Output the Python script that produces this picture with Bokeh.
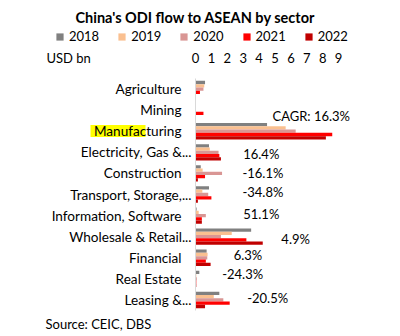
from bokeh.plotting import figure
from bokeh.models import Range1d, Legend, LegendItem, Label, BoxAnnotation, ColumnDataSource
from bokeh.core.properties import value
from bokeh.embed import file_html
from bokeh.resources import INLINE

# ---------------- data ----------------
years = ["2018", "2019", "2020", "2021", "2022"]
sectors = ["Agriculture", "Mining", "Manufacturing", "Electricity, Gas &...",
           "Construction", "Transport, Storage,...", "Information, Software",
           "Wholesale & Retail...", "Financial", "Real Estate", "Leasing &..."]
v2018 = [0.60, 0.00, 4.50, 0.85, 0.33, 0.85, 0.07, 3.50, 0.70, 0.24, 1.50]
v2019 = [0.55, 0.00, 5.67, 0.90, 0.45, 0.43, 0.20, 2.28, 0.76, 0.05, 1.15]
v2020 = [0.50, 0.00, 6.30, 1.45, 1.67, 0.80, 0.65, 1.60, 0.74, 0.08, 1.75]
v2021 = [0.28, 0.50, 8.60, 1.50, 0.60, 1.00, 0.40, 3.20, 0.65, 0.05, 2.15]
v2022 = [0.02, 0.02, 8.20, 1.60, 0.15, 0.15, 0.40, 4.23, 0.95, 0.05, 0.60]
tick_values = [0, 1, 2, 3, 4, 5, 6, 7, 8, 9]

cagr_sectors = ["Mining", "Electricity, Gas &...", "Construction",
                "Transport, Storage,...", "Information, Software",
                "Wholesale & Retail...", "Financial", "Real Estate", "Leasing &..."]
cagr_text = ["CAGR: 16.3%", "16.4%", "-16.1%", "-34.8%", "51.1%",
             "4.9%", "6.3%", "-24.3%", "-20.5%"]

title_text = "China's ODI flow to ASEAN by sector"
unit_text = "USD bn"
source_text = "Source: CEIC, DBS"

# ---------------- style / layout ----------------
FONT = "Lato"
colors = ["#808080", "#FAC090", "#D99694", "#FF0000", "#C00000"]
W, H = 400, 336
UNIT = 15.9            # px per USD bn
ZERO_PX = 195          # canvas x of value 0
PLOT_TOP, PLOT_BOTTOM = 78, 310   # canvas y of the category band
n = len(sectors)
CAT_PX = (PLOT_BOTTOM - PLOT_TOP) / n

# annotation placement (data units / category-unit shifts)
cagr_x = [4.84, 3.0, 2.95, 2.95, 3.0, 5.4, 2.4, 1.68, 3.25]
cagr_dy = [-0.26, -0.07, 0.03, 0.11, 0.06, -0.13, 0.11, 0.21, 0.09]

p = figure(width=W, height=H,
           x_range=Range1d(-ZERO_PX / UNIT, (W - ZERO_PX) / UNIT),
           y_range=Range1d(-(H - PLOT_BOTTOM) / CAT_PX, PLOT_BOTTOM / CAT_PX),
           output_backend="svg", toolbar_location=None,
           min_border=0)
p.outline_line_color = None
p.background_fill_color = "white"
p.border_fill_color = "white"
p.grid.visible = False
p.axis.visible = False

yc = [n - 1 - i + 0.5 for i in range(n)]   # category centres

# highlight behind "Manufac"
man_c = yc[sectors.index("Manufacturing")]
p.add_layout(BoxAnnotation(left=(90 - ZERO_PX) / UNIT, right=(145 - ZERO_PX) / UNIT,
                           top=man_c + 0.30, bottom=man_c - 0.27,
                           fill_color="#FFFF00", fill_alpha=1, line_color=None,
                           level="underlay"))

# bars
series = [v2018, v2019, v2020, v2021, v2022]
bar_h = 0.155
offsets = [2 * bar_h, bar_h, 0.0, -bar_h, -2 * bar_h]
items = []
for yr, vals, col, off in zip(years, series, colors, offsets):
    src = ColumnDataSource(dict(y=[c + off for c in yc], v=vals))
    r = p.hbar(y="y", left=0, right="v", height=bar_h,
               fill_color=col, line_color=None, source=src)
    items.append(LegendItem(label=yr, renderers=[r]))

# value axis line
p.segment(x0=0, y0=0, x1=0, y1=n, line_color="#D9D9D9", line_width=1)

# value axis tick labels (shown above the bars)
tick_y = (PLOT_BOTTOM - 57) / CAT_PX
p.text(x=tick_values, y=[tick_y] * len(tick_values), text=[str(t) for t in tick_values],
       text_align="center", text_baseline="middle",
       text_font=value(FONT), text_font_size="13px", text_color="#000000")

# category labels
lab_off = [-4 if s.endswith("...") else -14 for s in sectors]
p.text(x=0, y=yc, text=sectors, x_offset=lab_off,
       text_align="right", text_baseline="middle",
       text_font=value(FONT), text_font_size="13.6px", text_color="#000000")

# CAGR labels
cagr_y = [yc[sectors.index(s)] + d for s, d in zip(cagr_sectors, cagr_dy)]
p.text(x=cagr_x, y=cagr_y, text=cagr_text, text_align="left", text_baseline="middle",
       text_font=value(FONT), text_font_size="13px", text_color="#000000")

# legend
legend = Legend(items=items, orientation="horizontal", location=(55, H - 44),
                glyph_width=9, glyph_height=9, label_standoff=5, spacing=18,
                padding=0, margin=0, border_line_color=None, background_fill_alpha=0,
                label_text_font=FONT, label_text_font_size="13px",
                label_text_color="#000000")
p.add_layout(legend)

# title, unit, source
p.add_layout(Label(x=195, y=H - 17, x_units="screen", y_units="screen",
                   text=title_text, text_align="center", text_baseline="middle",
                   text_font=FONT, text_font_size="14.5px", text_font_style="bold",
                   text_color="#000000"))
p.add_layout(Label(x=46, y=H - 57, x_units="screen", y_units="screen",
                   text=unit_text, text_baseline="middle", text_font=FONT,
                   text_font_size="13px", text_color="#000000"))
p.add_layout(Label(x=45, y=H - 323, x_units="screen", y_units="screen",
                   text=source_text, text_baseline="middle", text_font=FONT,
                   text_font_size="13px", text_color="#000000"))

open("out.html", "w").write(file_html(p, INLINE))
